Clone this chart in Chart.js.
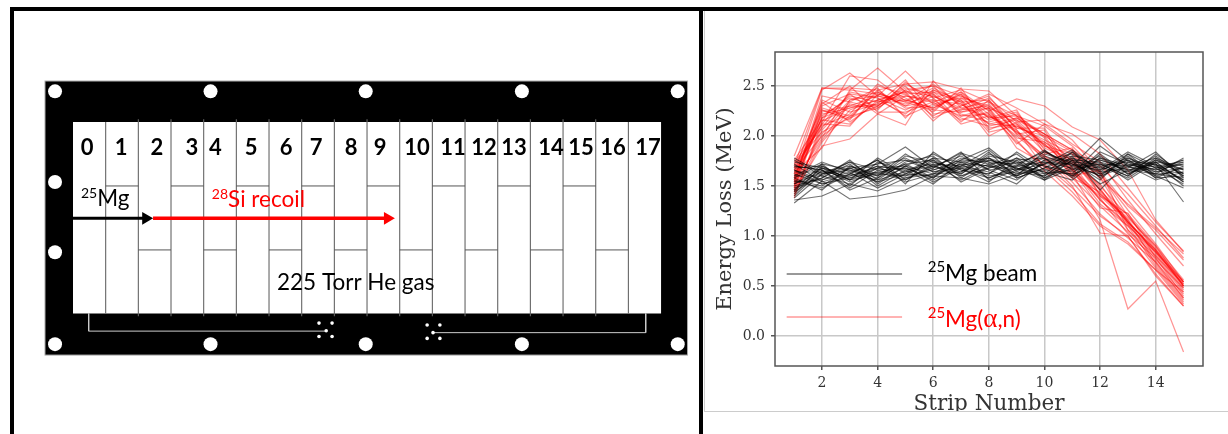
<!DOCTYPE html>
<html>
<head>
<meta charset="utf-8">
<title>Strip energy loss</title>
<script src="https://cdn.jsdelivr.net/npm/chart.js@4"></script>
<style>
    html, body { margin: 0; padding: 0; background: #fff; width: 1228px; height: 434px; overflow: hidden; }
    canvas { position: absolute; display: block; }
    #anodeChart { left: 0; top: 0; }
    #lossChart { left: 705px; top: 11px; }
    .rule { position: absolute; }
</style>
</head>
<body>
<canvas id="anodeChart" width="700" height="434"></canvas>
<canvas id="lossChart" width="523" height="400"></canvas>
<div class="rule" style="left:10px;top:7px;width:1218px;height:4px;background:#000"></div>
<div class="rule" style="left:10px;top:7px;width:4px;height:427px;background:#000"></div>
<div class="rule" style="left:699px;top:7px;width:4px;height:427px;background:#000"></div>
<div class="rule" style="left:704px;top:11px;width:1px;height:401px;background:#ccc"></div>
<div class="rule" style="left:704px;top:411px;width:524px;height:1px;background:#ccc"></div>
<script>
// energy loss plot values
const strips = [1, 2, 3, 4, 5, 6, 7, 8, 9, 10, 11, 12, 13, 14, 15];
const xTicks = [2, 4, 6, 8, 10, 12, 14];
const yTicks = [0, 0.5, 1, 1.5, 2, 2.5];

const beamRuns = [
    [1.33, 1.55, 1.37, 1.40, 1.46, 1.60, 1.58, 1.52, 1.62, 1.66, 1.74, 1.72, 1.70, 1.62, 1.58],
    [1.36, 1.40, 1.52, 1.45, 1.58, 1.62, 1.70, 1.78, 1.60, 1.85, 1.70, 1.98, 1.75, 1.72, 1.34],
    [1.78, 1.62, 1.68, 1.72, 1.89, 1.68, 1.83, 1.74, 1.60, 1.72, 1.80, 1.46, 1.74, 1.66, 1.76],
    [1.42, 1.70, 1.56, 1.62, 1.60, 1.76, 1.62, 1.82, 1.72, 1.64, 1.62, 1.90, 1.70, 1.78, 1.60],
    [1.55, 1.48, 1.62, 1.76, 1.52, 1.84, 1.66, 1.62, 1.78, 1.58, 1.76, 1.64, 1.82, 1.60, 1.68],
    [1.70, 1.66, 1.46, 1.58, 1.72, 1.58, 1.76, 1.88, 1.66, 1.78, 1.58, 1.82, 1.62, 1.74, 1.54],
    [1.48, 1.58, 1.72, 1.50, 1.66, 1.72, 1.56, 1.70, 1.82, 1.62, 1.84, 1.58, 1.78, 1.68, 1.72],
    [1.62, 1.52, 1.60, 1.68, 1.78, 1.64, 1.72, 1.58, 1.70, 1.86, 1.66, 1.72, 1.60, 1.82, 1.62],
    [1.74, 1.68, 1.54, 1.64, 1.56, 1.70, 1.80, 1.66, 1.56, 1.74, 1.72, 1.60, 1.80, 1.58, 1.70],
    [1.38, 1.62, 1.66, 1.54, 1.70, 1.54, 1.68, 1.76, 1.68, 1.60, 1.80, 1.76, 1.66, 1.72, 1.50],
    [1.58, 1.72, 1.50, 1.74, 1.64, 1.78, 1.60, 1.68, 1.74, 1.70, 1.60, 1.84, 1.72, 1.64, 1.74],
    [1.52, 1.64, 1.70, 1.60, 1.82, 1.66, 1.74, 1.60, 1.64, 1.80, 1.70, 1.66, 1.84, 1.70, 1.56],
    [1.66, 1.56, 1.64, 1.48, 1.62, 1.74, 1.64, 1.84, 1.58, 1.68, 1.78, 1.70, 1.58, 1.76, 1.66],
    [1.45, 1.68, 1.58, 1.70, 1.54, 1.62, 1.78, 1.72, 1.76, 1.56, 1.68, 1.62, 1.76, 1.62, 1.78],
    [1.60, 1.60, 1.74, 1.66, 1.68, 1.56, 1.70, 1.64, 1.52, 1.76, 1.82, 1.68, 1.64, 1.80, 1.60],
    [1.72, 1.54, 1.62, 1.56, 1.74, 1.80, 1.58, 1.76, 1.70, 1.64, 1.56, 1.78, 1.70, 1.56, 1.64],
    [1.40, 1.66, 1.48, 1.66, 1.58, 1.68, 1.84, 1.56, 1.66, 1.82, 1.74, 1.56, 1.82, 1.68, 1.52],
    [1.56, 1.50, 1.68, 1.60, 1.76, 1.70, 1.62, 1.80, 1.74, 1.58, 1.70, 1.74, 1.56, 1.74, 1.70],
    [1.68, 1.70, 1.56, 1.78, 1.62, 1.60, 1.72, 1.70, 1.60, 1.72, 1.86, 1.64, 1.68, 1.84, 1.58],
    [1.50, 1.58, 1.76, 1.52, 1.70, 1.82, 1.68, 1.62, 1.84, 1.66, 1.62, 1.70, 1.74, 1.60, 1.48],
    [1.64, 1.64, 1.60, 1.70, 1.66, 1.52, 1.74, 1.78, 1.62, 1.76, 1.76, 1.52, 1.66, 1.70, 1.74],
    [1.46, 1.72, 1.66, 1.58, 1.80, 1.74, 1.66, 1.58, 1.68, 1.62, 1.66, 1.80, 1.62, 1.76, 1.62],
    [1.76, 1.60, 1.52, 1.68, 1.60, 1.66, 1.76, 1.74, 1.72, 1.84, 1.72, 1.68, 1.78, 1.64, 1.68],
    [1.58, 1.46, 1.70, 1.62, 1.72, 1.76, 1.54, 1.68, 1.78, 1.70, 1.64, 1.76, 1.68, 1.72, 1.56],
    [1.52, 1.68, 1.62, 1.76, 1.56, 1.72, 1.70, 1.86, 1.64, 1.60, 1.78, 1.62, 1.72, 1.66, 1.72],
    [1.66, 1.52, 1.58, 1.64, 1.68, 1.58, 1.82, 1.66, 1.70, 1.74, 1.68, 1.72, 1.60, 1.78, 1.66],
    [1.44, 1.62, 1.74, 1.56, 1.64, 1.70, 1.60, 1.72, 1.58, 1.68, 1.84, 1.66, 1.76, 1.58, 1.60],
    [1.60, 1.74, 1.64, 1.72, 1.76, 1.64, 1.68, 1.54, 1.76, 1.78, 1.60, 1.78, 1.64, 1.68, 1.76],
    [1.54, 1.56, 1.68, 1.54, 1.62, 1.78, 1.74, 1.70, 1.66, 1.72, 1.72, 1.60, 1.70, 1.74, 1.54],
    [1.70, 1.66, 1.56, 1.68, 1.70, 1.62, 1.64, 1.78, 1.68, 1.56, 1.76, 1.74, 1.66, 1.62, 1.64]
];

const recoilRuns = [
    [1.80, 2.48, 2.46, 2.68, 2.44, 2.50, 2.40, 2.28, 2.16, 2.02, 1.86, 1.70, 1.42, 1.10, 0.78],
    [1.62, 2.46, 2.63, 2.40, 2.65, 2.38, 2.46, 2.34, 2.20, 2.10, 1.90, 1.62, 1.20, 0.86, 0.50],
    [1.38, 2.14, 2.60, 2.56, 2.35, 2.52, 2.30, 2.42, 2.28, 2.12, 2.02, 1.82, 1.48, 1.14, 0.85],
    [1.50, 2.30, 2.42, 2.22, 2.11, 2.55, 2.28, 2.20, 2.04, 1.80, 1.54, 1.22, 0.98, 0.74, 0.42],
    [1.44, 1.90, 1.97, 2.22, 2.40, 2.34, 2.44, 2.25, 2.37, 2.30, 2.09, 1.96, 1.66, 1.16, 0.84],
    [1.70, 2.48, 2.48, 2.46, 2.52, 2.54, 2.47, 2.45, 2.20, 2.02, 1.86, 1.58, 1.14, 0.84, 0.54],
    [1.56, 2.15, 2.28, 2.36, 2.44, 2.15, 2.38, 2.30, 2.12, 1.92, 1.66, 1.28, 1.23, 0.78, 0.40],
    [1.48, 2.20, 2.38, 2.30, 2.48, 2.42, 2.14, 2.36, 2.08, 2.08, 1.68, 1.36, 1.10, 0.70, 0.36],
    [1.66, 2.00, 2.20, 2.44, 2.30, 2.46, 2.32, 2.16, 2.24, 1.86, 1.62, 1.16, 0.27, 0.55, -0.16],
    [1.52, 2.36, 2.24, 2.32, 2.36, 2.28, 2.42, 2.22, 2.00, 1.78, 1.50, 1.03, 1.00, 0.62, 0.30],
    [1.74, 2.08, 2.44, 2.38, 2.26, 2.40, 2.26, 2.38, 2.14, 1.88, 1.76, 1.46, 1.14, 0.84, 0.50],
    [1.58, 2.26, 2.16, 2.50, 2.42, 2.20, 2.36, 2.12, 2.18, 2.00, 1.84, 1.62, 1.26, 0.92, 0.54],
    [1.46, 1.96, 2.32, 2.26, 2.54, 2.32, 2.20, 2.28, 1.96, 1.65, 1.40, 1.10, 0.92, 0.66, 0.44],
    [1.68, 2.12, 2.10, 2.42, 2.34, 2.48, 2.34, 2.04, 2.10, 1.94, 1.72, 1.52, 1.12, 0.80, 0.52],
    [1.54, 2.40, 2.34, 2.28, 2.46, 2.26, 2.44, 2.18, 2.26, 1.82, 1.88, 1.40, 1.22, 0.90, 0.56],
    [1.42, 1.94, 2.26, 2.36, 2.22, 2.44, 2.24, 2.32, 2.02, 2.06, 1.60, 1.66, 1.06, 0.74, 0.38],
    [1.60, 2.18, 2.40, 2.34, 2.40, 2.36, 2.18, 2.10, 2.16, 1.90, 1.76, 1.42, 1.16, 0.82, 0.48],
    [1.72, 2.04, 2.18, 2.46, 2.28, 2.30, 2.40, 2.26, 1.92, 2.12, 1.92, 1.74, 1.36, 1.02, 0.70],
    [1.50, 2.24, 2.30, 2.30, 2.50, 2.18, 2.30, 2.40, 2.06, 1.76, 1.58, 1.30, 1.04, 0.68, 0.34],
    [1.64, 1.88, 2.36, 2.40, 2.32, 2.42, 2.22, 2.14, 2.22, 1.98, 1.58, 1.44, 1.14, 0.86, 0.50],
    [1.40, 2.10, 2.22, 2.52, 2.38, 2.24, 2.48, 2.08, 2.12, 1.84, 1.72, 1.36, 1.12, 0.76, 0.48],
    [1.56, 2.32, 2.50, 2.24, 2.24, 2.34, 2.16, 2.24, 1.98, 1.94, 1.78, 1.50, 1.20, 0.88, 0.54],
    [1.76, 2.16, 2.12, 2.36, 2.44, 2.40, 2.28, 2.34, 2.08, 2.00, 1.64, 1.38, 1.02, 0.78, 0.44],
    [1.48, 2.02, 2.34, 2.48, 2.18, 2.46, 2.36, 2.00, 2.14, 2.16, 1.96, 1.64, 1.30, 1.06, 0.76],
    [1.62, 2.22, 2.28, 2.32, 2.56, 2.22, 2.26, 2.30, 2.04, 1.92, 1.68, 1.32, 1.10, 0.84, 0.52],
    [1.52, 1.98, 2.46, 2.42, 2.36, 2.28, 2.42, 2.06, 2.18, 2.02, 1.74, 1.46, 1.16, 0.72, 0.38],
    [1.68, 2.28, 2.20, 2.28, 2.46, 2.50, 2.20, 2.22, 1.94, 1.70, 1.44, 1.12, 0.94, 0.66, 0.32],
    [1.44, 2.06, 2.36, 2.44, 2.30, 2.36, 2.32, 2.12, 2.10, 1.96, 1.82, 1.58, 1.32, 1.08, 0.82],
    [1.58, 2.34, 2.14, 2.34, 2.42, 2.44, 2.34, 2.36, 2.02, 1.80, 1.66, 1.42, 1.18, 0.90, 0.50],
    [1.66, 2.12, 2.42, 2.38, 2.20, 2.32, 2.38, 2.18, 2.20, 1.90, 1.82, 1.48, 1.06, 0.80, 0.46],
    [1.54, 2.18, 2.30, 2.40, 2.34, 2.26, 2.24, 2.28, 1.88, 1.72, 1.48, 1.20, 1.00, 0.60, 0.30],
    [1.46, 2.26, 2.18, 2.30, 2.52, 2.38, 2.12, 2.20, 2.06, 1.68, 1.62, 1.40, 1.14, 0.86, 0.54]
];

const legendStrips = [0.73, 4.88];
const beamLegendLevel = [0.62, 0.62];
const recoilLegendLevel = [0.19, 0.19];

// anode board, x in strip widths from the window edge, y in window heights from its bottom
const stripNumbers = ['0', '1', '2', '3', '4', '5', '6', '7', '8', '9', '10', '11', '12', '13', '14', '15', '16', '17'];
const stripLabelCentres = [0.43, 1.47, 2.57, 3.64, 4.36, 5.45, 6.52, 7.44, 8.51, 9.40, 10.53, 11.63, 12.58, 13.50, 14.63, 15.55, 16.53, 17.60];
const upperSteps = [1, 3, 5, 7, 9, 11, 13, 15];
const lowerSteps = [2, 4, 6, 8, 10, 12, 14, 16];
const holeColumns = [-0.55, 4.21, 8.96, 13.74, 18.51];
const holeRows = [1.16, -0.16];
const sideHoles = [0.687, 0.32];
const padDotsX = [7.53, 7.93, 7.75, 7.53, 7.93, 10.84, 11.23, 11.02, 10.84, 11.23];
const padDotsY = [-0.05, -0.05, -0.09, -0.12, -0.12, -0.06, -0.06, -0.10, -0.13, -0.13];

const stripPx = 32.67, windowLeftPx = 73, windowBottomPx = 313.5, windowPx = 191.5;

function toPoints(xs, ys) {
    return xs.map((x, i) => ({ x: x, y: ys[i] }));
}

// null entries break the line so one dataset can hold many segments
function segments(list) {
    const out = [];
    list.forEach((s) => {
        out.push({ x: s[0], y: s[1] }, { x: s[2], y: s[3] }, { x: s[0], y: null });
    });
    return out;
}

function drawRuns(ctx, x, y, runs) {
    ctx.save();
    ctx.textAlign = 'left';
    ctx.textBaseline = 'alphabetic';
    runs.forEach((run) => {
        ctx.font = run.font;
        ctx.fillStyle = run.color;
        ctx.fillText(run.text, x, y - (run.rise || 0));
        x += ctx.measureText(run.text).width;
    });
    ctx.restore();
}

const calibri = 'Lato, "Open Sans", sans-serif';

const boardPlugin = {
    id: 'board',
    beforeDatasetsDraw(chart) {
        const { ctx, scales: { x, y } } = chart;
        const rect = (x0, y0, x1, y1, fill, stroke) => {
            const l = x.getPixelForValue(x0), t = y.getPixelForValue(y0);
            const w = x.getPixelForValue(x1) - l, h = y.getPixelForValue(y1) - t;
            ctx.fillStyle = fill;
            ctx.fillRect(l, t, w, h);
            if (stroke) {
                ctx.strokeStyle = stroke;
                ctx.strokeRect(l, t, w, h);
            }
        };
        rect(-0.857, 1.214, 18.81, -0.217, '#000', '#aaa');
        rect(0, 1, 18, 0, '#fff');
    },
    afterDatasetsDraw(chart) {
        const { ctx, scales: { x, y } } = chart;
        ctx.save();
        ctx.font = 'bold 22px ' + calibri;
        ctx.fillStyle = '#000';
        ctx.textAlign = 'center';
        ctx.textBaseline = 'middle';
        stripNumbers.forEach((label, i) => {
            ctx.fillText(label, x.getPixelForValue(stripLabelCentres[i]), y.getPixelForValue(0.864));
        });
        ctx.restore();
        const sup = (t, color) => ({ text: t, font: '14px ' + calibri, color: color, rise: 8 });
        const big = (t, color) => ({ text: t, font: '22.5px ' + calibri, color: color });
        drawRuns(ctx, x.getPixelForValue(0.245), y.getPixelForValue(0.56), [sup('25', '#000'), big('Mg', '#000')]);
        drawRuns(ctx, x.getPixelForValue(4.25), y.getPixelForValue(0.558), [sup('28', '#f00'), big('Si recoil', '#f00')]);
        drawRuns(ctx, x.getPixelForValue(6.245), y.getPixelForValue(0.123), [big('225 Torr He gas', '#000')]);
    }
};

const stripEdges = stripNumbers.slice(1).map((n, i) => i + 1);

function addAnodeChart() {
    const dividers = segments(stripEdges.map((e) => {
        const over = e > 1 && e < 17 ? 0.015 : 0;
        return [e, 1 + over, e, 0 - over];
    }));
    const steps = segments(
        upperSteps.map((s) => [s, 0.666, s + 1, 0.666]).concat(lowerSteps.map((s) => [s, 0.332, s + 1, 0.332]))
    );
    const holes = [];
    holeRows.forEach((r) => holeColumns.forEach((c) => holes.push({ x: c, y: r })));
    sideHoles.forEach((r) => holes.push({ x: holeColumns[0], y: r }));
    const line = (data, color, width) => ({
        data: data, borderColor: color, borderWidth: width, showLine: true, pointRadius: 0, spanGaps: false
    });
    const arrow = (data, color, width) => ({
        data: data, borderColor: color, backgroundColor: color, borderWidth: width, showLine: true,
        pointStyle: 'triangle', pointRotation: 90, pointRadius: [0, 7.3], pointBorderWidth: 0
    });
    const config = {
        type: 'scatter',
        data: {
            datasets: [
                arrow(toPoints([0, 2.23], [0.497, 0.497]), '#000', 3),
                arrow(toPoints([2.45, 9.63], [0.497, 0.497]), '#f00', 3.5),
                { data: holes, backgroundColor: '#fff', pointRadius: 7, pointBorderWidth: 0 },
                { data: toPoints(padDotsX, padDotsY), backgroundColor: '#fff', pointRadius: 1.8, pointBorderWidth: 0 },
                line(segments([[0.48, 0, 0.48, -0.092], [0.48, -0.092, 7.75, -0.092]]), '#ccc', 1),
                line(segments([[17.53, 0, 17.53, -0.1], [17.53, -0.1, 11.02, -0.1]]), '#ccc', 1),
                line(steps, '#555', 1),
                line(dividers, '#666', 1.1)
            ]
        },
        options: {
            responsive: false,
            animation: false,
            layout: { padding: 0, autoPadding: false },
            plugins: { legend: { display: false }, tooltip: { enabled: false } },
            scales: {
                x: { type: 'linear', display: false, min: -windowLeftPx / stripPx, max: (700 - windowLeftPx) / stripPx },
                y: { type: 'linear', display: false, min: -(434 - windowBottomPx) / windowPx, max: windowBottomPx / windowPx }
            }
        },
        plugins: [boardPlugin]
    };
    return new Chart(document.getElementById('anodeChart'), config);
}

const lossPlugin = {
    id: 'lossFrame',
    afterDatasetsDraw(chart) {
        const { ctx, chartArea: a, scales: { x, y } } = chart;
        ctx.save();
        ctx.strokeStyle = '#555';
        ctx.lineWidth = 1.5;
        ctx.strokeRect(a.left, a.top, a.right - a.left, a.bottom - a.top);
        ctx.restore();
        const sup = (t, color) => ({ text: t, font: '15px ' + calibri, color: color, rise: 9 });
        const big = (t, color) => ({ text: t, font: '22.5px ' + calibri, color: color });
        drawRuns(ctx, x.getPixelForValue(5.8), y.getPixelForValue(0.553), [sup('25', '#000'), big('Mg beam', '#000')]);
        drawRuns(ctx, x.getPixelForValue(5.8), y.getPixelForValue(0.09), [
            sup('25', '#f00'), big('Mg(', '#f00'),
            { text: 'α', font: '27px "Liberation Serif", serif', color: '#f00' },
            big(',n)', '#f00')
        ]);
    }
};

function addLossChart() {
    const run = (values, color, width) => ({
        data: toPoints(strips, values), borderColor: color, borderWidth: width,
        showLine: true, pointRadius: 0, tension: 0
    });
    const legendRun = (levels, color) => ({
        data: toPoints(legendStrips, levels), borderColor: color, borderWidth: 1,
        showLine: true, pointRadius: 0
    });
    const tickFont = { family: '"DejaVu Serif", serif', size: 14 };
    const config = {
        type: 'scatter',
        data: {
            datasets: beamRuns.map((r) => run(r, 'rgba(0, 0, 0, 0.55)', 1.15))
                .concat(recoilRuns.map((r) => run(r, 'rgba(255, 0, 0, 0.42)', 1.25)))
                .concat([
                    legendRun(beamLegendLevel, '#333'),
                    legendRun(recoilLegendLevel, 'rgba(255, 0, 0, 0.6)')
                ])
        },
        options: {
            responsive: false,
            animation: false,
            layout: { padding: { top: 41, right: 25, left: 0, bottom: 0 } },
            plugins: { legend: { display: false }, tooltip: { enabled: false } },
            scales: {
                x: {
                    type: 'linear',
                    position: 'bottom',
                    min: 0.31,
                    max: 15.7,
                    afterFit: (s) => { s.height = 45; },
                    afterBuildTicks: (s) => { s.ticks = xTicks.map((v) => ({ value: v })); },
                    grid: { color: '#c8c8c8', lineWidth: 1.5, tickColor: '#555', tickLength: 4 },
                    border: { display: false },
                    ticks: { font: tickFont, color: '#333', padding: 5, maxRotation: 0 },
                    title: {
                        display: true,
                        text: 'Strip Number',
                        color: '#333',
                        font: { family: '"DejaVu Serif", serif', size: 21.5 },
                        padding: { top: 0, bottom: -6 }
                    }
                },
                y: {
                    type: 'linear',
                    min: -0.3,
                    max: 2.84,
                    afterFit: (s) => { s.width = 70; },
                    afterBuildTicks: (s) => { s.ticks = yTicks.map((v) => ({ value: v })); },
                    grid: { color: '#c8c8c8', lineWidth: 1.5, tickColor: '#555', tickLength: 4 },
                    border: { display: false },
                    ticks: { font: tickFont, color: '#333', padding: 6, callback: (v) => v.toFixed(1) },
                    title: {
                        display: true,
                        text: 'Energy Loss (MeV)',
                        color: '#333',
                        font: { family: '"DejaVu Serif", serif', size: 21 },
                        padding: { top: 8, bottom: 0 }
                    }
                }
            }
        },
        plugins: [lossPlugin]
    };
    return new Chart(document.getElementById('lossChart'), config);
}

addAnodeChart();
addLossChart();
</script>
</body>
</html>
